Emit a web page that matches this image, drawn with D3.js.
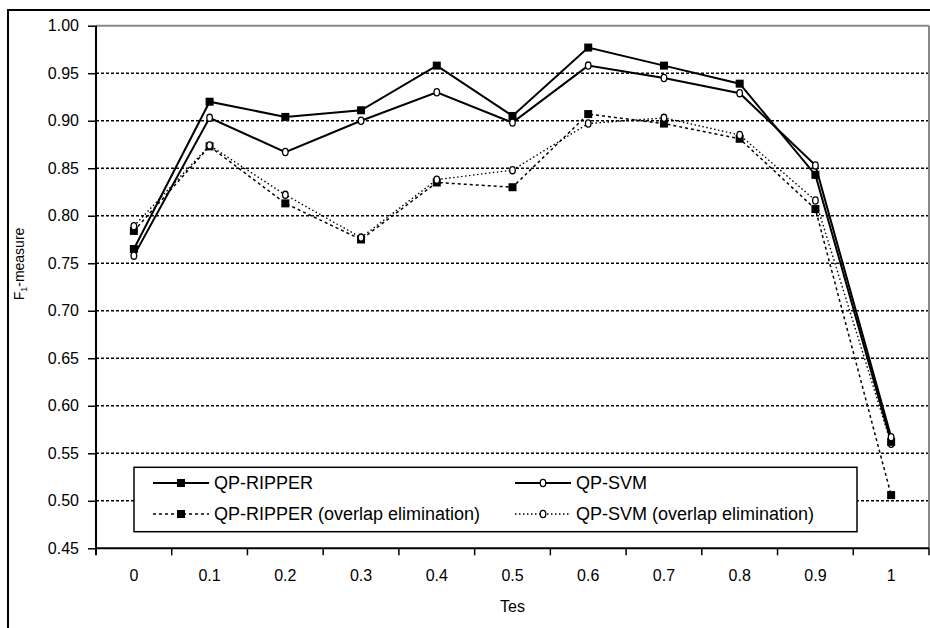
<!DOCTYPE html>
<html><head><meta charset="utf-8">
<script src="https://cdn.jsdelivr.net/npm/d3@7"></script>
<style>
html,body{margin:0;padding:0;background:#fff;}
svg{display:block;font-family:"Liberation Sans",Arial,sans-serif;}
</style></head>
<body>
<svg id="chart" width="930" height="628"></svg>
<script>
const categories = ["0","0.1","0.2","0.3","0.4","0.5","0.6","0.7","0.8","0.9","1"];
const qpRipper   = [0.765,0.920,0.904,0.911,0.958,0.905,0.977,0.958,0.939,0.843,0.562];
const qpSvm      = [0.758,0.903,0.867,0.900,0.930,0.898,0.958,0.945,0.929,0.853,0.567];
const qpRipperOE = [0.784,0.873,0.813,0.775,0.835,0.830,0.907,0.897,0.881,0.807,0.506];
const qpSvmOE    = [0.789,0.874,0.822,0.777,0.838,0.848,0.897,0.903,0.885,0.816,0.560];
const yTicks = [0.45,0.50,0.55,0.60,0.65,0.70,0.75,0.80,0.85,0.90,0.95,1.00];
const seriesNames = ["QP-RIPPER","QP-SVM","QP-RIPPER (overlap elimination)","QP-SVM (overlap elimination)"];
const xTitle = "Tes";

const series = [
  {name: seriesNames[0], values: qpRipper,   marker: "square", dash: null,  width: 2},
  {name: seriesNames[1], values: qpSvm,      marker: "circle", dash: null,  width: 2},
  {name: seriesNames[2], values: qpRipperOE, marker: "square", dash: "3,3", width: 1.5},
  {name: seriesNames[3], values: qpSvmOE,    marker: "circle", dash: "1.5,2.5", width: 1.4}
];

const svg = d3.select("#chart");
const L = 96, R = 929, T = 25.7, B = 548.3;

// outer frame
svg.append("rect").attr("x",8).attr("y",10).attr("width",960).attr("height",660)
  .attr("fill","none").attr("stroke","#000").attr("stroke-width",2);

const x = d3.scaleBand().domain(categories).range([L,R]).paddingInner(0).paddingOuter(0);
const y = d3.scaleLinear().domain([0.45,1.0]).range([B,T]);
const cx = d => x(d) + x.bandwidth()/2;

// gridlines
svg.append("g").selectAll("line").data(yTicks.filter(v => v > 0.451 && v < 0.999)).join("line")
  .attr("x1",L).attr("x2",R).attr("y1",d=>y(d)).attr("y2",d=>y(d))
  .attr("stroke","#000").attr("stroke-width",1.4).attr("stroke-dasharray","3,2");

// plot border top/right gray
svg.append("line").attr("x1",L).attr("x2",R).attr("y1",y(1)).attr("y2",y(1))
  .attr("stroke","#888").attr("stroke-width",2);
svg.append("line").attr("x1",R).attr("x2",R).attr("y1",y(1)).attr("y2",B)
  .attr("stroke","#888").attr("stroke-width",2);

// y axis
const yAxis = svg.append("g").attr("transform",`translate(${L},0)`)
  .call(d3.axisLeft(y).tickValues(yTicks).tickFormat(d3.format(".2f")).tickSize(8).tickPadding(9));
yAxis.select(".domain").attr("stroke","#000").attr("stroke-width",2)
  .attr("d",`M0,${T}V${B+7}`);
yAxis.selectAll(".tick line").attr("stroke","#000").attr("stroke-width",1.5);
yAxis.selectAll("text").attr("font-size",16).attr("fill","#000")
  .attr("font-family","'Liberation Sans',Arial,sans-serif");

// x axis
const xAxis = svg.append("g").attr("transform",`translate(0,${B})`)
  .call(d3.axisBottom(x).tickSize(0).tickPadding(21));
xAxis.select(".domain").attr("stroke","#000").attr("stroke-width",2).attr("d",`M${L},0H${R}`);
xAxis.selectAll("text").attr("font-size",16).attr("fill","#000")
  .attr("font-family","'Liberation Sans',Arial,sans-serif");
// tick marks at category boundaries
svg.append("g").selectAll("line").data(categories.slice(1).concat(["__end"])).join("line")
  .attr("x1",d => d === "__end" ? R : x(d)).attr("x2",d => d === "__end" ? R : x(d))
  .attr("y1",B).attr("y2",B+7).attr("stroke","#000").attr("stroke-width",1.5);

// axis titles
svg.append("text").attr("x",(L+R)/2).attr("y",612).attr("text-anchor","middle")
  .attr("font-size",16).text(xTitle);
const yt = svg.append("text").attr("transform","translate(24,264) rotate(-90)")
  .attr("text-anchor","middle").attr("font-size",14);
yt.append("tspan").text("F");
yt.append("tspan").attr("font-size",9).attr("dy",3).text("1");
yt.append("tspan").attr("dy",-3).text("-measure");

// lines
const line = d3.line().x((d,i)=>cx(categories[i])).y(d=>y(d));
function drawMarker(g, type, px, py){
  if(type==="square"){
    g.append("rect").attr("x",px-4).attr("y",py-4).attr("width",8).attr("height",8).attr("fill","#000");
  } else {
    g.append("ellipse").attr("cx",px).attr("cy",py).attr("rx",2.8).attr("ry",3.6)
      .attr("fill","#fff").attr("stroke","#000").attr("stroke-width",1.3);
  }
}
const plot = svg.append("g");
[2,3,0,1].forEach(k => {
  const s = series[k];
  const p = plot.append("path").attr("d",line(s.values)).attr("fill","none")
    .attr("stroke","#000").attr("stroke-width",s.width);
  if(s.dash) p.attr("stroke-dasharray",s.dash);
});
[2,3,0,1].forEach(k => {
  const s = series[k];
  const g = plot.append("g");
  s.values.forEach((v,i) => drawMarker(g, s.marker, cx(categories[i]), y(v)));
});

// legend
const lg = svg.append("g");
lg.append("rect").attr("x",134).attr("y",467.3).attr("width",723).attr("height",64.4)
  .attr("fill","#fff").attr("stroke","#000").attr("stroke-width",1.5);
const legPos = [[153,483],[515,483],[153,514],[515,514]];
series.forEach((s,k) => {
  const [lx,ly] = legPos[k];
  const l = lg.append("line").attr("x1",lx).attr("x2",lx+56).attr("y1",ly).attr("y2",ly)
    .attr("stroke","#000").attr("stroke-width",s.width);
  if(s.dash) l.attr("stroke-dasharray",s.dash);
  drawMarker(lg, s.marker, lx+28, ly);
  lg.append("text").attr("x",lx+61).attr("y",ly).attr("dy","0.35em")
    .attr("font-size",18).text(s.name);
});
</script>
</body></html>
